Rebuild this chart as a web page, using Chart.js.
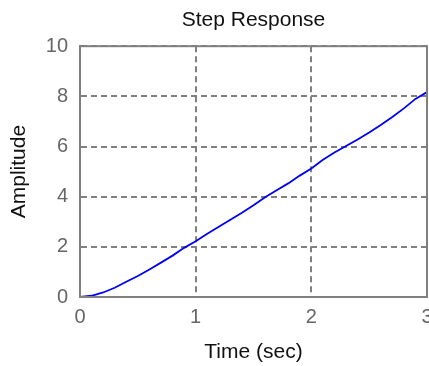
<!DOCTYPE html>
<html lang="en">
<head>
    <meta charset="UTF-8">
    <title>Step Response</title>
    <script src="https://cdn.jsdelivr.net/npm/chart.js"></script>
    <style>
        body {
            margin: 0;
            background: #fff;
            overflow: hidden;
        }
        /* a bit wider than the window so the last x label gets cut like the original */
        .wrap {
            position: absolute;
            left: 0;
            top: 0;
            width: 445px;
            height: 366px;
        }
    </style>
</head>
<body>
    <div class="wrap">
        <canvas id="stepChart"></canvas>
    </div>

    <script>
        // data
        const timeSec = [0, 0.1, 0.2, 0.3, 0.4, 0.5, 0.6, 0.7, 0.8, 0.9,
                         1.0, 1.1, 1.2, 1.3, 1.4, 1.5, 1.6, 1.7, 1.8, 1.9,
                         2.0, 2.1, 2.2, 2.3, 2.4, 2.5, 2.6, 2.7, 2.8, 2.9, 3.0];
        const amplitude = [0, 0.05, 0.18, 0.37, 0.61, 0.84, 1.1, 1.37, 1.65, 1.96,
                           2.22, 2.52, 2.8, 3.08, 3.36, 3.66, 3.98, 4.26, 4.53, 4.84,
                           5.12, 5.47, 5.76, 6.02, 6.28, 6.56, 6.86, 7.18, 7.52, 7.9, 8.17];
        const xTicks = [0, 1, 2, 3];
        const yTicks = [0, 2, 4, 6, 8, 10];

        const FONT = "'Liberation Sans', Arial, sans-serif";
        const GRID = '#808080';

        // solid box around the plot area
        const axesBox = {
            id: 'axesBox',
            afterDraw(chart) {
                const a = chart.chartArea;
                const c = chart.ctx;
                c.save();
                c.strokeStyle = GRID;
                c.lineWidth = 2;
                c.strokeRect(a.left, a.top, a.right - a.left, a.bottom - a.top);
                c.restore();
            }
        };

        window.onload = function() {
            const ctx = document.getElementById('stepChart').getContext('2d');
            new Chart(ctx, {
                type: 'line',
                data: {
                    datasets: [{
                        data: timeSec.map((t, i) => ({ x: t, y: amplitude[i] })),
                        borderColor: '#0000ff',
                        borderWidth: 1.8,
                        pointRadius: 0,
                        tension: 0,
                        fill: false
                    }]
                },
                options: {
                    responsive: true,
                    maintainAspectRatio: false,
                    animation: false,
                    layout: {
                        padding: { left: 0, right: 18, top: 0, bottom: 0 }
                    },
                    plugins: {
                        legend: { display: false },
                        tooltip: { enabled: false },
                        title: {
                            display: true,
                            fullSize: false,
                            text: 'Step Response',
                            color: '#111',
                            font: { family: FONT, size: 21, weight: 'normal' },
                            padding: { top: 8, bottom: 13 }
                        }
                    },
                    scales: {
                        x: {
                            type: 'linear',
                            min: 0,
                            max: 3,
                            afterBuildTicks: s => { s.ticks = xTicks.map(v => ({ value: v })); },
                            afterFit: s => { s.height = 69; },
                            ticks: {
                                color: '#666',
                                padding: 8,
                                font: { family: FONT, size: 20 }
                            },
                            grid: {
                                color: GRID,
                                lineWidth: 2,
                                drawTicks: false
                            },
                            border: { display: true, color: GRID, width: 2, dash: [6, 4] },
                            title: {
                                display: true,
                                text: 'Time (sec)',
                                color: '#111',
                                font: { family: FONT, size: 21 },
                                padding: { top: 0, bottom: 1 }
                            }
                        },
                        y: {
                            min: 0,
                            max: 10,
                            afterBuildTicks: s => { s.ticks = yTicks.map(v => ({ value: v })); },
                            afterFit: s => { s.width = 80; },
                            ticks: {
                                color: '#666',
                                padding: 12,
                                font: { family: FONT, size: 20 }
                            },
                            grid: {
                                color: GRID,
                                lineWidth: 2,
                                drawTicks: false
                            },
                            border: { display: true, color: GRID, width: 2, dash: [6, 4] },
                            title: {
                                display: true,
                                text: 'Amplitude',
                                color: '#111',
                                font: { family: FONT, size: 21 },
                                padding: { top: 7, bottom: 1 }
                            }
                        }
                    }
                },
                plugins: [axesBox]
            });
        };
    </script>
</body>
</html>
